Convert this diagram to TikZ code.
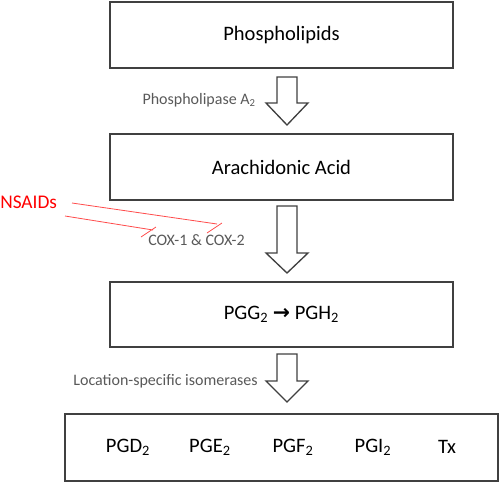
\documentclass[tikz,border=0pt]{standalone}
\usepackage{fontspec}
\setmainfont{Carlito}
\newfontfamily\arrowfont{DejaVu Sans}
\usetikzlibrary{positioning}

\definecolor{labelgray}{HTML}{595959}
\definecolor{boxline}{HTML}{404040}
\definecolor{inhibred}{HTML}{FF4B4B}

\begin{document}
\begin{tikzpicture}[x=0.75pt,y=-0.75pt,
  stagebox/.style={draw=boxline, line width=1pt, minimum width=257.25pt,
    minimum height=49.5pt, inner sep=0pt, font=\fontsize{15.4}{18}\selectfont},
  product/.style={inner sep=0pt, font=\fontsize{15.4}{18}\selectfont},
  enzyme/.style={text=labelgray, inner sep=0pt, font=\fontsize{12}{14}\selectfont},
  blockarrow/.style={draw=boxline, line width=1pt, fill=white, line join=miter},
  inhibit/.style={draw=inhibred, line width=0.6pt}]

\useasboundingbox (0,0) rectangle (500,483);

% --- Stages ---
\node[stagebox] (lipids) at (281.5,35) {Phospholipids};
\node[stagebox] (aa) at (281.5,167) {Arachidonic Acid};
\node[stagebox, minimum height=48.75pt] (pgh) at (281.5,314.5)
  {PGG\textsubscript{2} {\arrowfont\bfseries →} PGH\textsubscript{2}};
\node[stagebox, minimum width=324.75pt, minimum height=50.25pt] (prods) at (281.5,447.5) {};

% --- Products ---
\node[product] (pgd) at (128,447) {PGD\textsubscript{2}};
\node[product] (pge) at (210,447) {PGE\textsubscript{2}};
\node[product] (pgf) at (293,447) {PGF\textsubscript{2}};
\node[product] (pgi) at (373,447) {PGI\textsubscript{2}};
\node[product] (tx) at (447,447) {Tx};

% --- Block arrows ---
\foreach \top/\neck/\tip in {77/103/125, 206/253/273, 354/381/402}
  \draw[blockarrow] (277,\top) -- (297,\top) -- (297,\neck) -- (308,\neck)
    -- (287,\tip) -- (266,\neck) -- (277,\neck) -- cycle;

% --- Enzymes ---
\node[enzyme, anchor=east] (pla) at (256,100) {Phospholipase A\textsubscript{2}};
\node[enzyme, anchor=west] (cox) at (148,240) {COX-1 \& COX-2};
\node[enzyme, anchor=east] (iso) at (258,381) {Location-specific isomerases};

% --- Inhibition ---
\node[text=red, inner sep=0pt, anchor=west, font=\fontsize{14.5}{17}\selectfont] (nsaid) at (0,202) {NSAIDs};
\coordinate (n1) at (72,203);
\coordinate (c1) at (217,224);
\coordinate (n2) at (65,216);
\coordinate (c2) at (153,230);
\draw[inhibit] (n1) -- (c1) (207,233) -- (222,223);
\draw[inhibit] (n2) -- (c2) (141,237) -- (156,227);

\end{tikzpicture}
\end{document}
